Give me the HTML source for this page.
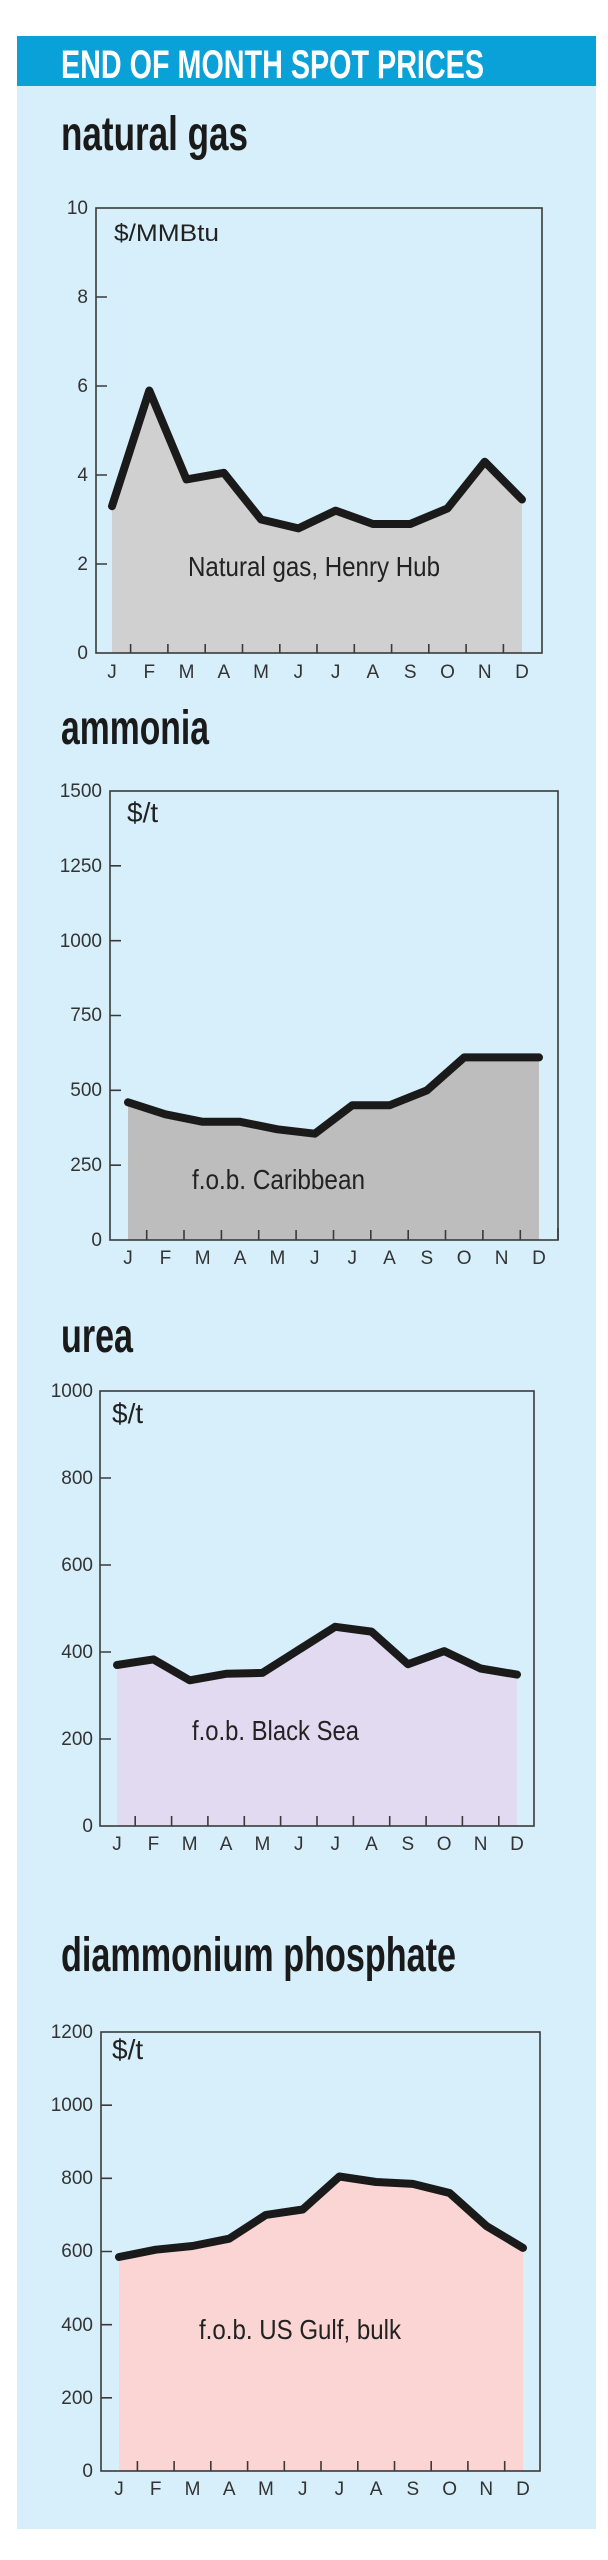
<!DOCTYPE html>
<html><head><meta charset="utf-8"><style>
html,body{margin:0;padding:0;background:#fff;width:608px;height:2560px;overflow:hidden}
svg{display:block}
text{font-family:"Liberation Sans",sans-serif}
.h{font-weight:bold;fill:#1a1a1a}
.t{font-size:19px;fill:#333}
.m{font-size:19px;fill:#333;text-anchor:middle}
.ax{fill:none;stroke:#3a3a3a;stroke-width:1.6}
.ln{fill:none;stroke:#1a1a1a;stroke-width:8;stroke-linejoin:round;stroke-linecap:round}
.lab{font-size:28px;fill:#222}
</style></head><body>
<svg width="608" height="2560" viewBox="0 0 608 2560">
<rect x="17" y="36" width="579" height="2493" fill="#d6effa"/>
<rect x="17" y="36" width="579" height="50" fill="#0aa0d8"/>
<text x="61" y="78" font-size="40" font-weight="bold" fill="#fff" textLength="423" lengthAdjust="spacingAndGlyphs">END OF MONTH SPOT PRICES</text>

<!-- natural gas -->
<text class="h" x="61" y="150" font-size="48" textLength="187" lengthAdjust="spacingAndGlyphs">natural gas</text>
<polygon fill="#d0d0d0" points="112,653 112,506.2 149.3,390.5 186.5,479.4 223.8,472.8 261.1,519.5 298.4,528.4 335.6,510.6 372.9,524 410.2,524 447.5,508.4 484.7,461.7 522,499.5 522,653"/>
<polyline class="ln" points="112,506.2 149.3,390.5 186.5,479.4 223.8,472.8 261.1,519.5 298.4,528.4 335.6,510.6 372.9,524 410.2,524 447.5,508.4 484.7,461.7 522,499.5"/>
<rect class="ax" x="96" y="208" width="446" height="445"/>
<g class="ax"><path d="M96 564h11M96 475h11M96 386h11M96 297h11M130.6 653v-9M167.9 653v-9M205.2 653v-9M242.5 653v-9M279.8 653v-9M317 653v-9M354.3 653v-9M391.6 653v-9M428.8 653v-9M466.1 653v-9M503.4 653v-9"/></g>
<g class="t" text-anchor="end"><text x="88" y="214">10</text><text x="88" y="303">8</text><text x="88" y="392">6</text><text x="88" y="481">4</text><text x="88" y="570">2</text><text x="88" y="659">0</text></g>
<g class="m"><text x="112" y="678">J</text><text x="149.3" y="678">F</text><text x="186.5" y="678">M</text><text x="223.8" y="678">A</text><text x="261.1" y="678">M</text><text x="298.4" y="678">J</text><text x="335.6" y="678">J</text><text x="372.9" y="678">A</text><text x="410.2" y="678">S</text><text x="447.5" y="678">O</text><text x="484.7" y="678">N</text><text x="522" y="678">D</text></g>
<text x="114" y="241" font-size="24" fill="#222" textLength="105" lengthAdjust="spacingAndGlyphs">$/MMBtu</text>
<text class="lab" x="188" y="576" textLength="252" lengthAdjust="spacingAndGlyphs">Natural gas, Henry Hub</text>

<!-- ammonia -->
<text class="h" x="61" y="744" font-size="48" textLength="148" lengthAdjust="spacingAndGlyphs">ammonia</text>
<polygon fill="#bdbdbd" points="128,1240 128,1102.3 165.4,1114.3 202.7,1121.8 240.1,1121.8 277.4,1129.3 314.8,1133.7 352.2,1105.3 389.5,1105.3 426.9,1090.4 464.2,1057.4 501.6,1057.4 539,1057.4 539,1240"/>
<polyline class="ln" points="128,1102.3 165.4,1114.3 202.7,1121.8 240.1,1121.8 277.4,1129.3 314.8,1133.7 352.2,1105.3 389.5,1105.3 426.9,1090.4 464.2,1057.4 501.6,1057.4 539,1057.4"/>
<rect class="ax" x="110" y="791" width="448" height="449"/>
<g class="ax"><path d="M110 1165.2h11M110 1090.3h11M110 1015.5h11M110 940.7h11M110 865.8h11M146.7 1240v-10M184 1240v-10M221.4 1240v-10M258.7 1240v-10M296.1 1240v-10M333.5 1240v-10M370.8 1240v-10M408.2 1240v-10M445.5 1240v-10M482.9 1240v-10M520.3 1240v-10M558 1240v-12"/></g>
<g class="t" text-anchor="end"><text x="102" y="797">1500</text><text x="102" y="872">1250</text><text x="102" y="947">1000</text><text x="102" y="1021">750</text><text x="102" y="1096">500</text><text x="102" y="1171">250</text><text x="102" y="1246">0</text></g>
<g class="m"><text x="128" y="1264">J</text><text x="165.4" y="1264">F</text><text x="202.7" y="1264">M</text><text x="240.1" y="1264">A</text><text x="277.4" y="1264">M</text><text x="314.8" y="1264">J</text><text x="352.2" y="1264">J</text><text x="389.5" y="1264">A</text><text x="426.9" y="1264">S</text><text x="464.2" y="1264">O</text><text x="501.6" y="1264">N</text><text x="539" y="1264">D</text></g>
<text x="127" y="822" font-size="28" fill="#222">$/t</text>
<text class="lab" x="192" y="1189" textLength="173" lengthAdjust="spacingAndGlyphs">f.o.b. Caribbean</text>

<!-- urea -->
<text class="h" x="61" y="1352" font-size="48" textLength="72" lengthAdjust="spacingAndGlyphs">urea</text>
<polygon fill="#e1daf0" points="117,1826 117,1665 153.4,1659.4 189.7,1680.3 226.1,1673.8 262.4,1672.9 298.8,1649.8 335.2,1626.8 371.5,1631.6 407.9,1664.2 444.2,1651.1 480.6,1668.5 517,1674.6 517,1826"/>
<polyline class="ln" points="117,1665 153.4,1659.4 189.7,1680.3 226.1,1673.8 262.4,1672.9 298.8,1649.8 335.2,1626.8 371.5,1631.6 407.9,1664.2 444.2,1651.1 480.6,1668.5 517,1674.6"/>
<rect class="ax" x="100" y="1391" width="434" height="435"/>
<g class="ax"><path d="M100 1739h11M100 1652h11M100 1565h11M100 1478h11M135.2 1826v-10M171.6 1826v-10M207.9 1826v-10M244.3 1826v-10M280.6 1826v-10M317 1826v-10M353.4 1826v-10M389.7 1826v-10M426.1 1826v-10M462.4 1826v-10M498.8 1826v-10"/></g>
<g class="t" text-anchor="end"><text x="93" y="1397">1000</text><text x="93" y="1484">800</text><text x="93" y="1571">600</text><text x="93" y="1658">400</text><text x="93" y="1745">200</text><text x="93" y="1832">0</text></g>
<g class="m"><text x="117" y="1850">J</text><text x="153.4" y="1850">F</text><text x="189.7" y="1850">M</text><text x="226.1" y="1850">A</text><text x="262.4" y="1850">M</text><text x="298.8" y="1850">J</text><text x="335.2" y="1850">J</text><text x="371.5" y="1850">A</text><text x="407.9" y="1850">S</text><text x="444.2" y="1850">O</text><text x="480.6" y="1850">N</text><text x="517" y="1850">D</text></g>
<text x="112" y="1423" font-size="28" fill="#222">$/t</text>
<text class="lab" x="192" y="1740" textLength="167" lengthAdjust="spacingAndGlyphs">f.o.b. Black Sea</text>

<!-- DAP -->
<text class="h" x="61" y="1971" font-size="48" textLength="395" lengthAdjust="spacingAndGlyphs">diammonium phosphate</text>
<polygon fill="#fbd5d3" points="119,2471 119,2257 155.7,2249.7 192.5,2246 229.2,2238.7 265.9,2214.9 302.7,2209.5 339.4,2176.5 376.1,2182 412.8,2183.9 449.6,2193 486.3,2225.9 523,2247.9 523,2471"/>
<polyline class="ln" points="119,2257 155.7,2249.7 192.5,2246 229.2,2238.7 265.9,2214.9 302.7,2209.5 339.4,2176.5 376.1,2182 412.8,2183.9 449.6,2193 486.3,2225.9 523,2247.9"/>
<rect class="ax" x="101" y="2032" width="439" height="439"/>
<g class="ax"><path d="M101 2397.8h11M101 2324.7h11M101 2251.5h11M101 2178.3h11M101 2105.2h11M137.4 2471v-10M174.1 2471v-10M210.8 2471v-10M247.6 2471v-10M284.3 2471v-10M321 2471v-10M357.8 2471v-10M394.5 2471v-10M431.2 2471v-10M467.9 2471v-10M504.7 2471v-10"/></g>
<g class="t" text-anchor="end"><text x="93" y="2038">1200</text><text x="93" y="2111">1000</text><text x="93" y="2184">800</text><text x="93" y="2257">600</text><text x="93" y="2331">400</text><text x="93" y="2404">200</text><text x="93" y="2477">0</text></g>
<g class="m"><text x="119" y="2495">J</text><text x="155.7" y="2495">F</text><text x="192.5" y="2495">M</text><text x="229.2" y="2495">A</text><text x="265.9" y="2495">M</text><text x="302.7" y="2495">J</text><text x="339.4" y="2495">J</text><text x="376.1" y="2495">A</text><text x="412.8" y="2495">S</text><text x="449.6" y="2495">O</text><text x="486.3" y="2495">N</text><text x="523" y="2495">D</text></g>
<text x="112" y="2059" font-size="28" fill="#222">$/t</text>
<text class="lab" x="199" y="2339" textLength="202" lengthAdjust="spacingAndGlyphs">f.o.b. US Gulf, bulk</text>
</svg>
</body></html>
